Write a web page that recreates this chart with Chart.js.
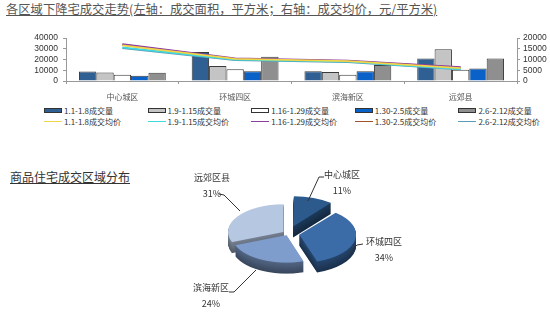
<!DOCTYPE html>
<html lang="zh-CN">
<head>
  <meta charset="UTF-8">
  <title>各区域成交走势</title>
  <script src="https://cdn.jsdelivr.net/npm/chart.js"></script>
  <style>
    body {
      margin: 0;
      width: 550px;
      height: 312px;
      background: #fff;
      position: relative;
      overflow: hidden;
      font-family: 'Noto Sans CJK SC', 'Liberation Sans', sans-serif;
    }
    .title {
      position: absolute;
      color: #555;
      text-decoration: underline;
      white-space: nowrap;
      line-height: 16px;
    }
    #t1 { left: 6px; top: 1px; font-size: 12.3px; }
    #t2 { left: 10px; top: 169px; font-size: 12px; color: #333; }
    #bars { position: absolute; left: 0; top: 28px; }
    #legend { position: absolute; left: 0; top: 104px; width: 550px; height: 24px; font-size: 8px; color: #333; }
    .lg { position: absolute; display: flex; align-items: center; white-space: nowrap; height: 12px; }
    .sw { width: 18px; height: 5px; border: 1px solid #333; margin-right: 2px; box-sizing: border-box; }
    .ln { width: 18px; height: 0; border-top: 1.5px solid; margin-right: 2px; }
    #pie { position: absolute; left: 203px; top: 191px; transform-origin: 0 0; transform: scaleY(0.5); }
    .pl {
      position: absolute;
      font-size: 9px;
      color: #333;
      text-align: center;
      line-height: 16px;
      transform: translateX(-50%);
      white-space: nowrap;
    }
    #leaders { position: absolute; left: 0; top: 0; }
  </style>
</head>
<body>
  <div class="title" id="t1">各区域下降宅成交走势(左轴：成交面积，平方米；右轴：成交均价，元/平方米)</div>
  <canvas id="bars" width="550" height="76"></canvas>
  <div id="legend"></div>

  <div class="title" id="t2">商品住宅成交区域分布</div>
  <canvas id="pie" width="170" height="192"></canvas>
  <svg id="leaders" width="550" height="312">
    <polyline points="324,177 319,177 308,201" fill="none" stroke="#333" stroke-width="1"/>
    <polyline points="219,194 224,195 240,211" fill="none" stroke="#333" stroke-width="1"/>
    <polyline points="363,244 357,245 350,252" fill="none" stroke="#333" stroke-width="1"/>
    <polyline points="229,292 234,292 256,270" fill="none" stroke="#333" stroke-width="1"/>
  </svg>
  <div id="pieLabels"></div>

  <script>
    // 区域 & 时间段
    const categories = ['中心城区', '环城四区', '滨海新区', '远郊县'];
    const periods = ['1.1-1.8', '1.9-1.15', '1.16-1.29', '1.30-2.5', '2.6-2.12'];

    // 成交量 (左轴, 平方米)
    const area_0101 = [8800, 27000, 9000, 21000];
    const area_0109 = [7900, 14000, 8300, 29500];
    const area_0116 = [5800, 11000, 5800, 10500];
    const area_0130 = [5000, 9000, 9000, 11700];
    const area_0206 = [7600, 22500, 15000, 21000];

    // 成交均价 (右轴, 元/平方米)
    const price_0101 = [16600, 10300, 9300, 6000];
    const price_0109 = [15700, 10000, 9000, 5600];
    const price_0116 = [17200, 10500, 9500, 6400];
    const price_0130 = [16900, 10200, 9200, 6200];
    const price_0206 = [15300, 9800, 8800, 5400];

    const leftTicks = [0, 10000, 20000, 30000, 40000];
    const rightTicks = [0, 5000, 10000, 15000, 20000];

    // 区域分布 (%)
    const pieLabels = ['中心城区', '环城四区', '滨海新区', '远郊区县'];
    const pieShares = [11, 34, 24, 31];

    const areaData = [area_0101, area_0109, area_0116, area_0130, area_0206];
    const priceData = [price_0101, price_0109, price_0116, price_0130, price_0206];
    const barColors = ['#305F93', '#C4C4C4', '#FFFFFF', '#0A62C9', '#8F8F8F'];
    const lineColors = ['#F2D447', '#3FD9E0', '#8E3E9E', '#A0522D', '#5B9BB5'];

    const tickFont = { family: 'Liberation Sans', size: 8.5 };
    const plain = v => String(v);

    const datasets = [];
    periods.forEach((p, i) => {
      datasets.push({
        type: 'bar',
        label: p + '成交量',
        data: areaData[i],
        backgroundColor: barColors[i],
        borderColor: '#3a3a3a',
        borderWidth: 1,
        yAxisID: 'y',
        order: 2,
        categoryPercentage: 0.77,
        barPercentage: 1.0
      });
    });
    periods.forEach((p, i) => {
      datasets.push({
        type: 'line',
        label: p + '成交均价',
        data: priceData[i],
        borderColor: lineColors[i],
        borderWidth: 1.8,
        pointRadius: 0,
        tension: 0,
        yAxisID: 'y2',
        order: 1
      });
    });

    new Chart(document.getElementById('bars'), {
      data: { labels: categories, datasets: datasets },
      options: {
        responsive: false,
        animation: false,
        layout: { padding: { top: 9 } },
        plugins: { legend: { display: false }, tooltip: { enabled: false } },
        scales: {
          x: {
            grid: { drawOnChartArea: false, tickLength: 3, color: '#999' },
            border: { color: '#999' },
            ticks: { font: { family: 'Noto Sans CJK SC', size: 8 }, color: '#555', padding: 8 },
            afterFit: s => { s.height = 23; }
          },
          y: {
            position: 'left',
            min: leftTicks[0],
            max: leftTicks[leftTicks.length - 1],
            afterBuildTicks: s => { s.ticks = leftTicks.map(v => ({ value: v })); },
            ticks: { autoSkip: false, font: tickFont, color: '#333', padding: 5, callback: plain },
            grid: { drawOnChartArea: false, tickLength: 3, color: '#999' },
            border: { color: '#999' },
            afterFit: s => { s.width = 66; }
          },
          y2: {
            position: 'right',
            min: rightTicks[0],
            max: rightTicks[rightTicks.length - 1],
            afterBuildTicks: s => { s.ticks = rightTicks.map(v => ({ value: v })); },
            ticks: { autoSkip: false, font: tickFont, color: '#333', padding: 3, callback: plain },
            grid: { drawOnChartArea: false, tickLength: 3, color: '#999' },
            border: { color: '#999' },
            afterFit: s => { s.width = 33; }
          }
        }
      }
    });

    // legend: 5 columns, bars on row 1, lines on row 2
    const legend = document.getElementById('legend');
    periods.forEach((p, i) => {
      const x = 44 + i * 103.6;
      const a = document.createElement('div');
      a.className = 'lg';
      a.style.left = x + 'px';
      a.style.top = '0px';
      a.innerHTML = `<span class="sw" style="background:${barColors[i]}"></span>${p}成交量`;
      legend.appendChild(a);
      const b = document.createElement('div');
      b.className = 'lg';
      b.style.left = x + 'px';
      b.style.top = '11px';
      b.innerHTML = `<span class="ln" style="border-color:${lineColors[i]}"></span>${p}成交均价`;
      legend.appendChild(b);
    });

    // pie with pseudo-3D depth
    const pieColors = ['#2C5A8C', '#3B6CA8', '#7F9DCC', '#B6C7E2'];
    const pieOffsets = [60, 46, 14, 22];
    const depth = 22;

    const depthPlugin = {
      id: 'depth',
      beforeDatasetsDraw(chart) {
        const ctx = chart.ctx;
        const arcs = chart.getDatasetMeta(0).data;
        for (let d = depth; d > 0; d--) {
          ctx.save();
          ctx.filter = 'brightness(' + (0.45 + 0.2 * (1 - d / depth)).toFixed(2) + ')';
          ctx.translate(0, d);
          arcs.forEach(a => a.draw(ctx));
          ctx.restore();
        }
      }
    };

    new Chart(document.getElementById('pie'), {
      type: 'pie',
      data: {
        labels: pieLabels,
        datasets: [{
          data: pieShares,
          backgroundColor: pieColors,
          borderWidth: 0,
          offset: pieOffsets
        }]
      },
      options: {
        responsive: false,
        animation: false,
        layout: { padding: { bottom: depth } },
        plugins: { legend: { display: false }, tooltip: { enabled: false } }
      },
      plugins: [depthPlugin]
    });

    // pie labels
    const labelPos = [[342, 167], [384, 234], [211, 280], [212, 170]];
    const pl = document.getElementById('pieLabels');
    pieLabels.forEach((name, i) => {
      const d = document.createElement('div');
      d.className = 'pl';
      d.style.left = labelPos[i][0] + 'px';
      d.style.top = labelPos[i][1] + 'px';
      d.innerHTML = name + '<br>' + pieShares[i] + '%';
      pl.appendChild(d);
    });
  </script>
</body>
</html>
